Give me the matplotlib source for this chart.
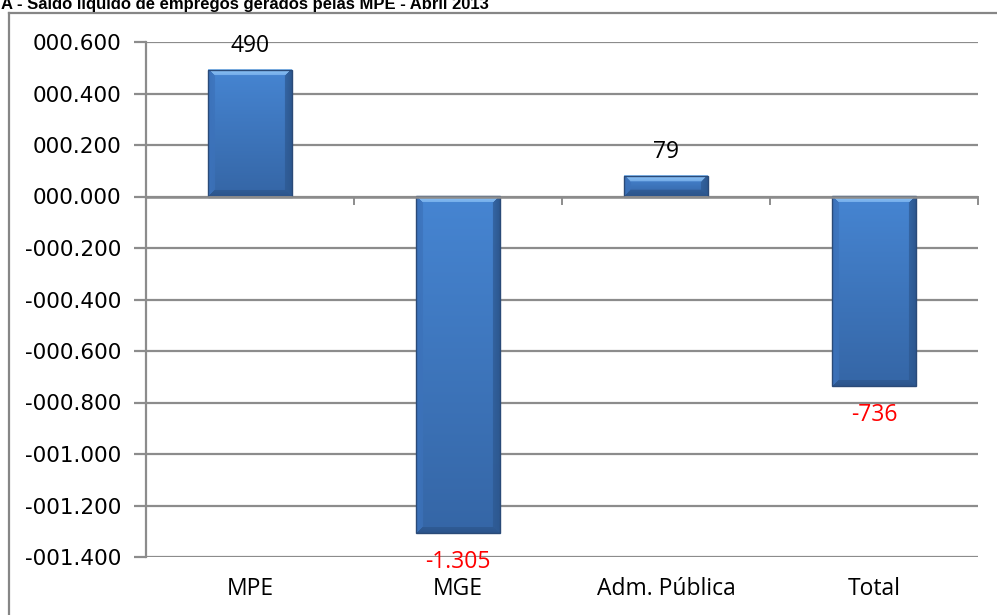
import matplotlib
matplotlib.use("Agg")
import matplotlib.pyplot as plt
import numpy as np
from matplotlib.ticker import FuncFormatter, FixedLocator
from matplotlib.patches import Rectangle
from matplotlib.lines import Line2D
import matplotlib.transforms as mtrans

categories = ["MPE", "MGE", "Adm. Pública", "Total"]
values = [490, -1305, 79, -736]          # saldo de empregos
value_labels = ["490", "-1.305", "79", "-736"]
yticks = [0.6, 0.4, 0.2, 0.0, -0.2, -0.4, -0.6, -0.8, -1.0, -1.2, -1.4]
title = "A - Saldo líquido de empregos gerados pelas MPE - Abril 2013"

fig = plt.figure(figsize=(9.97, 6.15), dpi=100)
W, H = 997, 615
ax = fig.add_axes([146 / W, 1 - 557 / H, (978 - 146) / W, (557 - 42) / H])

# outer chart frame (clipped by image edge, as in the original)
fig.add_artist(Line2D([9 / W, 9 / W], [0, 1 - 13 / H], transform=fig.transFigure,
                      color="#868686", lw=1.6))
fig.add_artist(Line2D([9 / W, 1.0], [1 - 13 / H, 1 - 13 / H], transform=fig.transFigure,
                      color="#868686", lw=1.6))
fig.text(1 / W, 1 - 9 / H, title, fontsize=12, fontweight="bold",
         family="Liberation Sans", va="baseline", ha="left", color="black")

x = np.arange(len(categories))
vals_k = np.array(values) / 1000.0
bar_w = 0.4

ax.set_xlim(-0.5, len(categories) - 0.5)
ax.set_ylim(-1.4, 0.6)

# bars with bevel shading (Excel style)
px_per_x = (978 - 146) / len(categories)
px_per_y = (557 - 42) / 2.0

def hexc(h):
    return np.array([int(h[i:i + 2], 16) for i in (1, 3, 5)], float) / 255.0

c_top, c_bot = hexc("#4685D2"), hexc("#3566A6")
c_tb, c_lb, c_rb, c_bb = hexc("#8CC2F6"), hexc("#3C72BA"), hexc("#2D5890"), hexc("#2C558C")

for xi, v in zip(x, vals_k):
    top, bot = max(v, 0.0), min(v, 0.0)
    wp = int(round(bar_w * px_per_x))
    hp = max(int(round((top - bot) * px_per_y)), 2)
    ii, jj = np.mgrid[0:hp, 0:wp].astype(float)
    t = (ii / max(hp - 1, 1))[..., None]
    img = c_top * (1 - t) + c_bot * t
    bt, bb, bl, br = 6.0, 6.0, 7.0, 7.0
    nt, nb, nl, nr = ii / bt, (hp - 1 - ii) / bb, jj / bl, (wp - 1 - jj) / br
    stack = np.stack([nt, nb, nl, nr])
    which = np.argmin(stack, axis=0)
    m = np.min(stack, axis=0)
    edge_cols = np.stack([c_tb, c_bb, c_lb, c_rb])
    ec = edge_cols[which]
    blend = np.clip(m, 0, 1)[..., None]
    mask = (m < 1)[..., None]
    img = np.where(mask, ec * (1 - 0.35 * blend) + img * 0.35 * blend, img)
    ax.imshow(img, extent=(xi - bar_w / 2, xi + bar_w / 2, bot, top),
              aspect="auto", interpolation="bilinear", zorder=3)
    ax.add_patch(Rectangle((xi - bar_w / 2, bot), bar_w, top - bot, facecolor="none",
                           edgecolor="#2A4A78", linewidth=1.0, zorder=3.5))

ax.set_xlim(-0.5, len(categories) - 0.5)
ax.set_ylim(-1.4, 0.6)

ax.yaxis.set_major_locator(FixedLocator(yticks))

def fmt(v, pos):
    s = "{:07.3f}".format(abs(v))
    return ("-" + s) if v < -1e-9 else s

ax.yaxis.set_major_formatter(FuncFormatter(fmt))
ax.grid(axis="y", color="#8C8C8C", linewidth=1.6, zorder=1)
ax.set_axisbelow(True)

for s in ["top", "right", "bottom"]:
    ax.spines[s].set_visible(False)
ax.spines["left"].set_color("#8C8C8C")
ax.spines["left"].set_linewidth(1.6)

ax.tick_params(axis="y", length=9, width=1.6, color="#8C8C8C", labelsize=15.5,
               pad=9, direction="out")
for lab in ax.get_yticklabels():
    lab.set_family("DejaVu Sans")

# category axis at zero with tick marks at category boundaries
ax.axhline(0, color="#8C8C8C", linewidth=1.8, zorder=4)
ax.set_xticks([])
for b in np.arange(0.5, len(categories), 1.0):
    ax.plot([b, b], [0, -0.03], color="#8C8C8C", lw=1.4, zorder=4, clip_on=False)

# category labels at bottom
lab_tr = ax.transData + mtrans.ScaledTranslation(0, -20 / 100, fig.dpi_scale_trans)
for xi, c in zip(x, categories):
    ax.text(xi, -1.4, c, transform=lab_tr, ha="center", va="top",
            fontsize=16.5, family="Open Sans", color="black")

# data labels
for xi, v, lab in zip(x, vals_k, value_labels):
    if v >= 0:
        ax.annotate(lab, (xi, v), xytext=(0, 9), textcoords="offset points",
                    ha="center", va="bottom", fontsize=16.5, family="Open Sans",
                    color="black", zorder=5)
    else:
        ax.annotate(lab, (xi, v), xytext=(0, -12.5), textcoords="offset points",
                    ha="center", va="top", fontsize=16.5, family="Open Sans",
                    color="#FF0000", zorder=5)

fig.savefig("out.png", dpi=100)
